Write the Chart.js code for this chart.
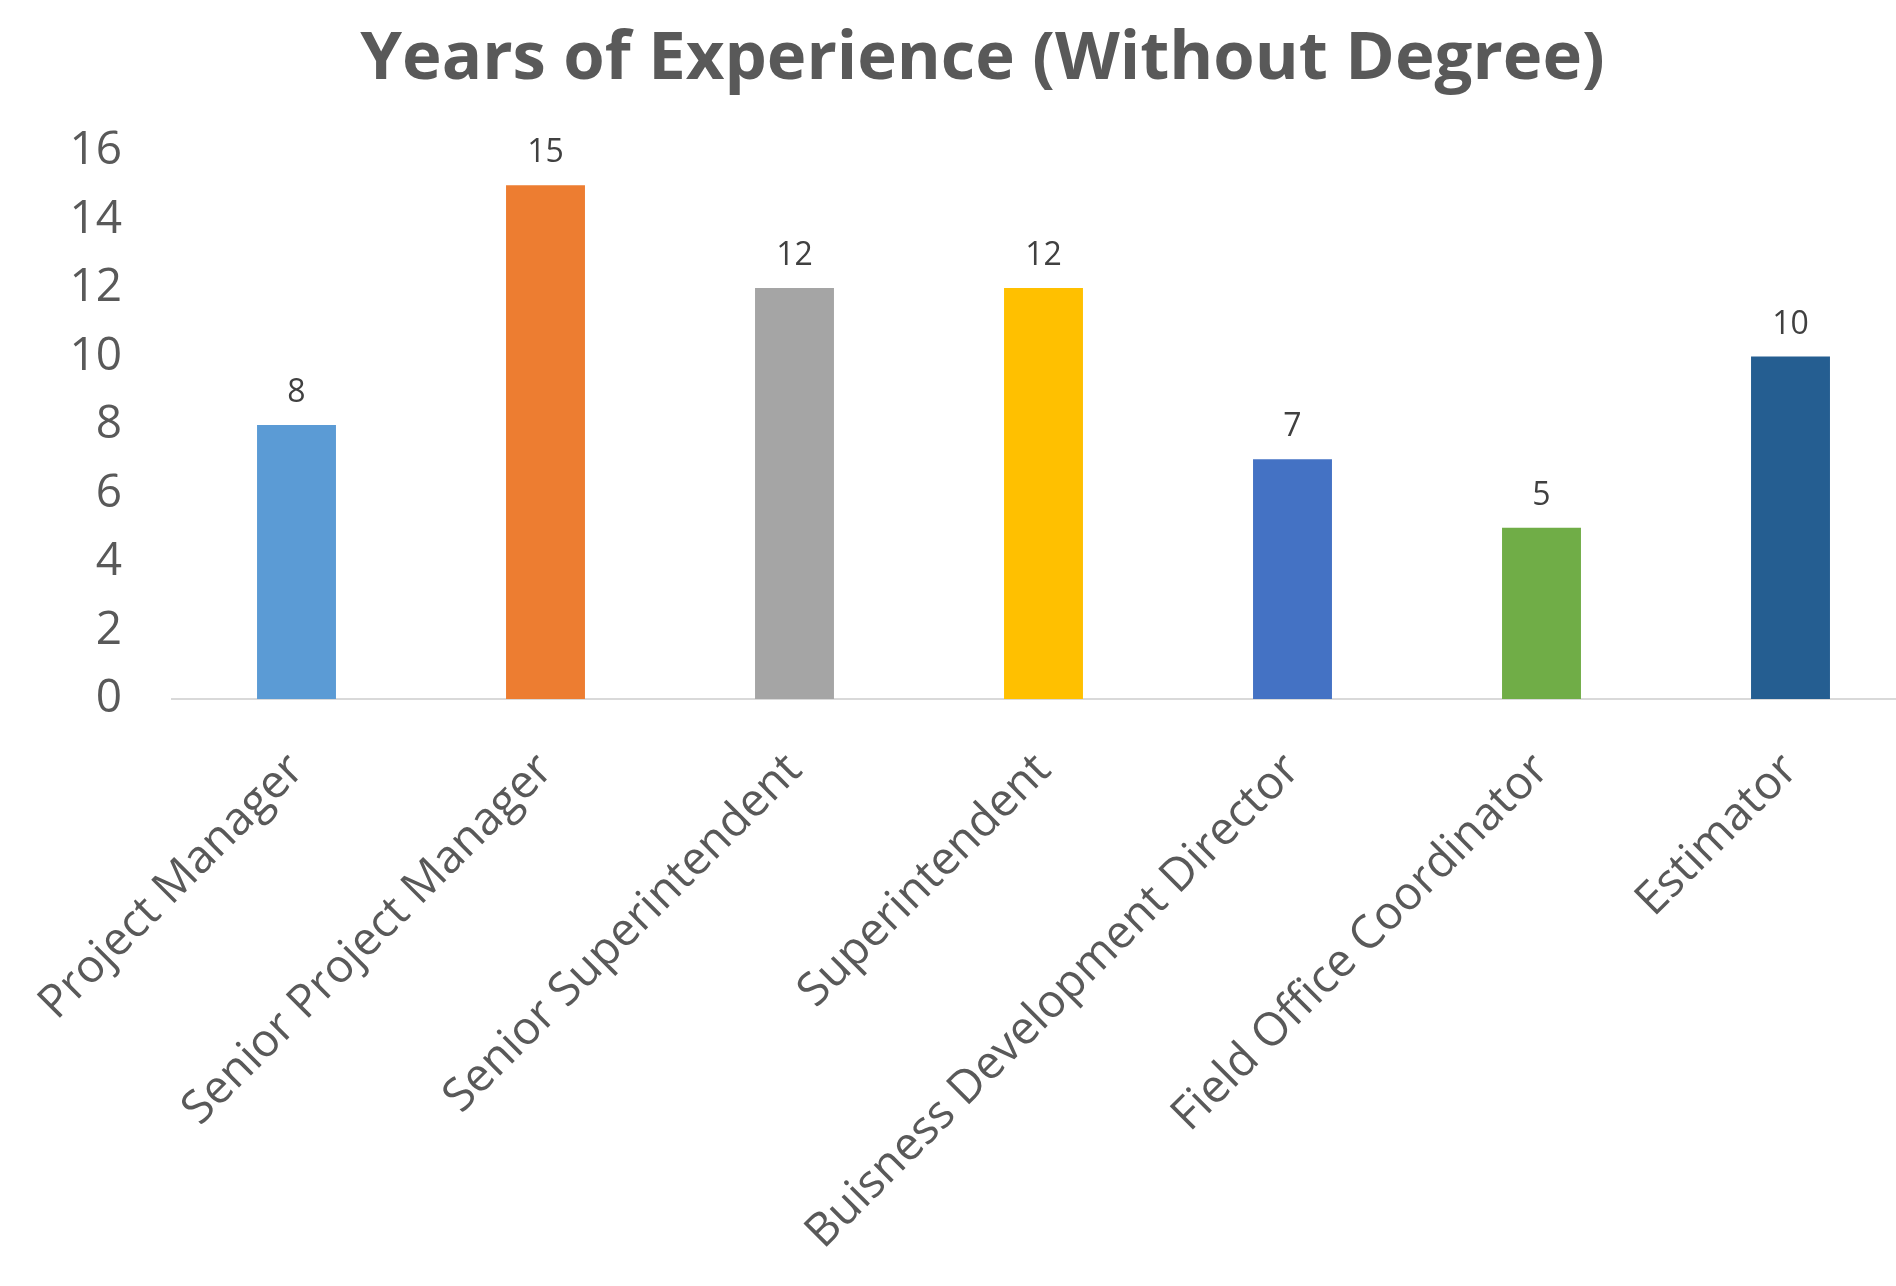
<!DOCTYPE html>
<html>
<head>
<meta charset="utf-8">
<title>Years of Experience (Without Degree)</title>
<script src="https://cdn.jsdelivr.net/npm/chart.js@4.4.1/dist/chart.umd.min.js"></script>
<style>
    html, body { margin: 0; padding: 0; background: #ffffff; overflow: hidden; }
    #wrap { width: 1964px; height: 1286px; }
</style>
</head>
<body>
<div id="wrap"><canvas id="chart" width="1964" height="1286"></canvas></div>
<script>
    // ── Data ──────────────────────────────────────────────────────────────────
    var CATEGORIES = [
        'Project Manager',
        'Senior Project Manager',
        'Senior Superintendent',
        'Superintendent',
        'Buisness Development Director',
        'Field Office Coordinator',
        'Estimator'
    ];
    var YEARS = [8, 15, 12, 12, 7, 5, 10];
    var BAR_COLOURS = ['#5B9BD5', '#ED7D31', '#A5A5A5', '#FFC000', '#4472C4', '#70AD47', '#255E91'];
    var Y_TICKS = [0, 2, 4, 6, 8, 10, 12, 14, 16];

    var FONT = '"Open Sans", "Noto Sans", sans-serif';
    var AXIS_TEXT = '#595959';

    // value labels above each bar (no datalabels plugin available offline)
    var valueLabels = {
        id: 'valueLabels',
        afterDatasetsDraw: function (chart) {
            var ctx = chart.ctx;
            var meta = chart.getDatasetMeta(0);
            ctx.save();
            ctx.font = '32px ' + FONT;
            ctx.fillStyle = '#404040';
            ctx.textAlign = 'center';
            ctx.textBaseline = 'middle';
            meta.data.forEach(function (bar, i) {
                ctx.fillText(String(YEARS[i]), bar.x, bar.y - 32);
            });
            ctx.restore();
        }
    };

    new Chart(document.getElementById('chart').getContext('2d'), {
        type: 'bar',
        data: {
            labels: CATEGORIES,
            datasets: [{
                label: 'Years',
                data: YEARS,
                backgroundColor: BAR_COLOURS,
                borderWidth: 0,
                barPercentage: 0.317,
                categoryPercentage: 1.0
            }]
        },
        options: {
            responsive: false,
            animation: false,
            layout: { padding: { left: 50, right: 49, top: 0, bottom: 0 } },
            plugins: {
                legend: { display: false },
                tooltip: { enabled: false },
                title: {
                    display: true,
                    text: 'Years of Experience (Without Degree)',
                    color: AXIS_TEXT,
                    font: { family: FONT, size: 67, weight: 'bold', lineHeight: 1.2 },
                    padding: { top: 20, bottom: 50.6 }
                }
            },
            scales: {
                x: {
                    grid: { display: false, drawTicks: false },
                    border: { display: true, color: '#D9D9D9', width: 2 },
                    ticks: {
                        color: AXIS_TEXT,
                        font: { family: FONT, size: 46 },
                        autoSkip: false,
                        minRotation: 45,
                        maxRotation: 45,
                        padding: 44
                    },
                    afterFit: function (scale) {
                        scale.height = 587;
                        // rotated labels fit in the y-axis gutter; keep the plot where it was
                        scale.paddingLeft = 0;
                        scale.paddingRight = 0;
                    }
                },
                y: {
                    min: 0,
                    max: 16,
                    grid: { display: false, drawTicks: false },
                    border: { display: false },
                    ticks: {
                        color: AXIS_TEXT,
                        font: { family: FONT, size: 46 },
                        padding: 50
                    },
                    afterBuildTicks: function (scale) {
                        scale.ticks = Y_TICKS.map(function (v) { return { value: v }; });
                    },
                    afterFit: function (scale) { scale.width = 122; }
                }
            }
        },
        plugins: [valueLabels]
    });
</script>
</body>
</html>
